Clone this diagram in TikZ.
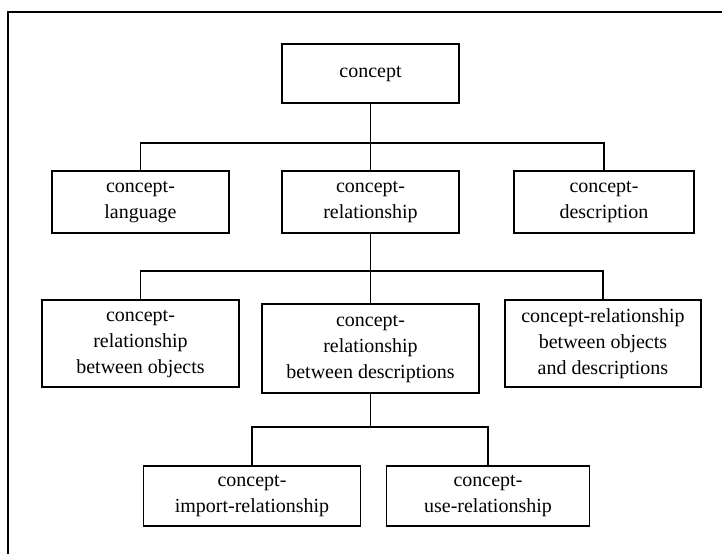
\documentclass[tikz,border=0pt]{standalone}
\usepackage{fontspec}
\setmainfont{Liberation Serif}
\begin{document}
\begin{tikzpicture}[x=0.75pt,y=-0.75pt,
  box/.style={draw,line width=1.3pt,align=center,inner sep=0pt,
    font=\fontsize{15}{19.5}\selectfont},
  link/.style={line width=1.3pt}]
\useasboundingbox (0,0) rectangle (722,554);
% outer frame (top and left edges)
\draw[line width=1.3pt] (8,554) -- (8,12) -- (722,12);

% level 1
\node[box,minimum width=177*0.75pt,minimum height=59*0.75pt] (concept) at (370.5,73.5) {concept};
% level 2
\node[box,minimum width=177*0.75pt,minimum height=62*0.75pt] (lang) at (140.5,202) {concept-\\language};
\node[box,minimum width=177*0.75pt,minimum height=62*0.75pt] (rel) at (370.5,202) {concept-\\relationship};
\node[box,minimum width=180*0.75pt,minimum height=62*0.75pt] (desc) at (604,202) {concept-\\description};
% level 3
\node[box,minimum width=197*0.75pt,minimum height=87*0.75pt] (obj) at (140.5,343.5) {concept-\\relationship\\between objects};
\node[box,minimum width=217*0.75pt,minimum height=89*0.75pt] (reldesc) at (370.5,348.5) {concept-\\relationship\\between descriptions};
\node[box,minimum width=196*0.75pt,minimum height=87*0.75pt] (objdesc) at (603,343.5) {concept-relationship\\between objects\\and descriptions};
% level 4
\node[box,minimum width=217*0.75pt,minimum height=60*0.75pt] (imp) at (252,496) {concept-\\import-relationship};
\node[box,minimum width=203*0.75pt,minimum height=60*0.75pt] (use) at (488,496) {concept-\\use-relationship};

% bus junctions
\coordinate (b1) at (370.5,143);
\coordinate (b2) at (370.5,271);
\coordinate (b3) at (370.5,427);

% connectors
\draw[link] (concept.south) -- (b1);
\draw[link] (lang.north) |- (b1) -| (desc.north);
\draw[link] (b1) -- (rel.north);

\draw[link] (rel.south) -- (b2);
\draw[link] (obj.north) |- (b2) -| (objdesc.north);
\draw[link] (b2) -- (reldesc.north);

\draw[link] (reldesc.south) -- (b3);
\draw[link] (imp.north) |- (b3) -| (use.north);
\end{tikzpicture}
\end{document}
